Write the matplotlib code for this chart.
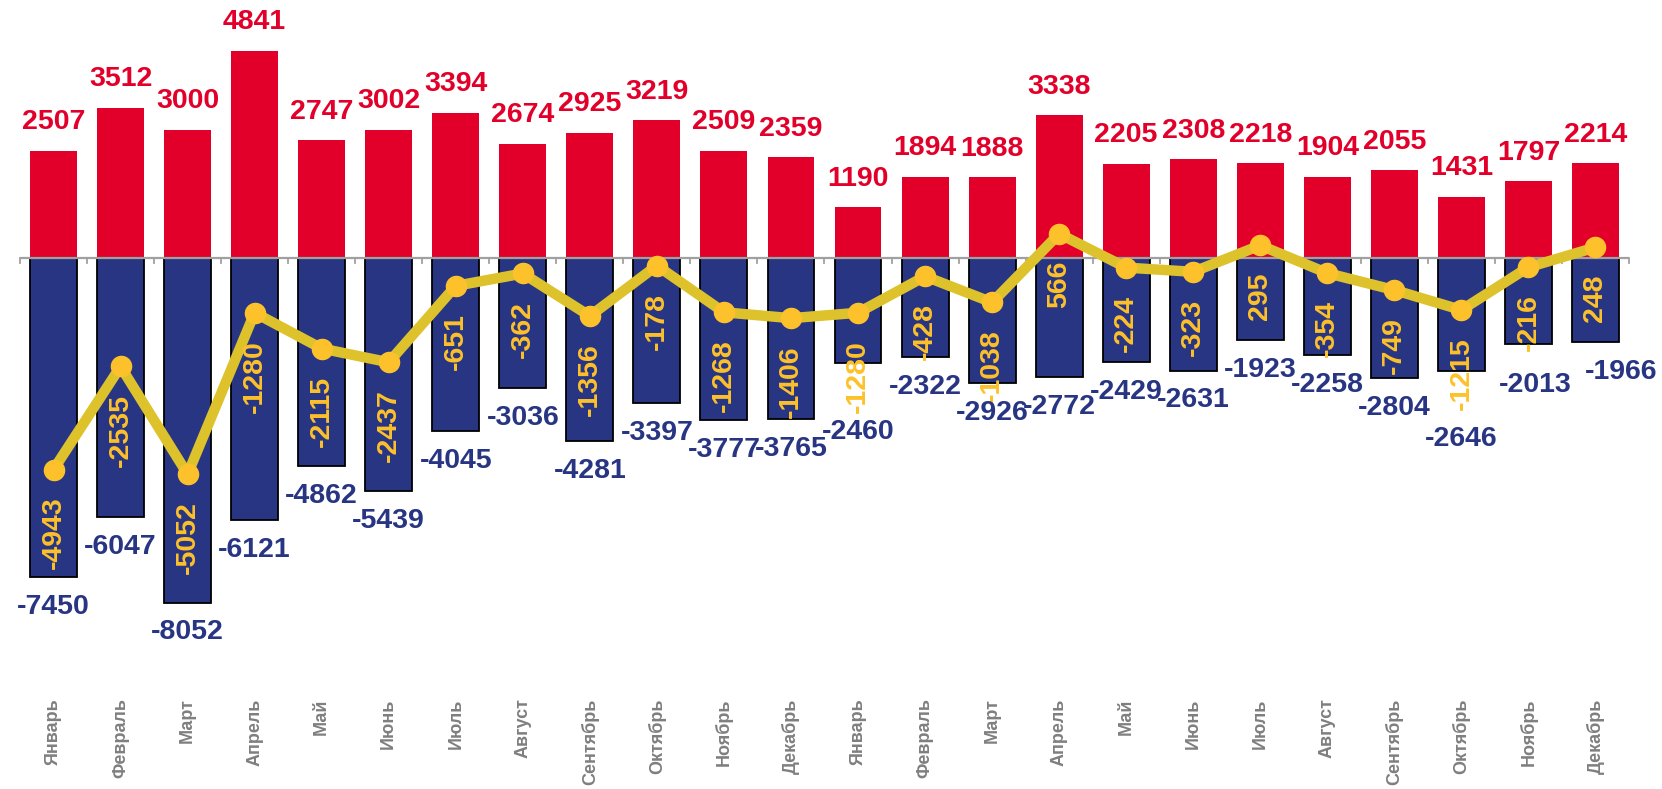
import matplotlib
matplotlib.use("Agg")
import matplotlib.pyplot as plt
import numpy as np

months = ["Январь", "Февраль", "Март", "Апрель", "Май", "Июнь", "Июль",
          "Август", "Сентябрь", "Октябрь", "Ноябрь", "Декабрь"] * 2
exports = [2507, 3512, 3000, 4841, 2747, 3002, 3394, 2674, 2925, 3219, 2509, 2359,
           1190, 1894, 1888, 3338, 2205, 2308, 2218, 1904, 2055, 1431, 1797, 2214]
imports = [-7450, -6047, -8052, -6121, -4862, -5439, -4045, -3036, -4281, -3397, -3777, -3765,
           -2460, -2322, -2926, -2772, -2429, -2631, -1923, -2258, -2804, -2646, -2013, -1966]
balance = [-4943, -2535, -5052, -1280, -2115, -2437, -651, -362, -1356, -178, -1268, -1406,
           -1280, -428, -1038, 566, -224, -323, 295, -354, -749, -1215, -216, 248]

# manual label nudges (extra shift in pixels) as in the original
import_label_extra_down_px = {12: 39, 21: 38, 22: 11}
import_label_extra_right_px = {22: 7, 23: 26}

RED = "#E2002A"
BLUE = "#283583"
LINE = "#DEC22C"
MARK = "#FCC12B"
YTXT = "#FDC12A"
GRAY = "#7F7F7F"

plt.rcParams["font.family"] = ["Liberation Sans", "DejaVu Sans"]
plt.rcParams["font.weight"] = "bold"

fig = plt.figure(figsize=(16.62, 7.89), dpi=100)
W, H = 1662, 789
left_px, right_px = 20, 1629
top_px, bot_px = 0, 690
ax = fig.add_axes([left_px / W, 1 - bot_px / H, (right_px - left_px) / W, (bot_px - top_px) / H])

base_px = 258
scale = 42.8 / 1000  # px per unit
ax.set_ylim(-(bot_px - base_px) / scale, (base_px - top_px) / scale)
n = len(months)
x = np.arange(n)
ax.set_xlim(-0.5, n - 0.5)

ax.bar(x, exports, width=0.70, color=RED, zorder=2)
ax.bar(x, imports, width=0.70, color=BLUE, edgecolor="black", linewidth=1.3, zorder=2)

# zero line with boundary ticks
ax.axhline(0, color="#A0A0A0", lw=1.6, zorder=3)
tick_len = 5 / scale
for b in np.arange(-0.5, n, 1.0):
    ax.plot([b, b], [0, -tick_len], color="#A0A0A0", lw=1.3, zorder=3, clip_on=False)

ax.plot(x, balance, color=LINE, lw=7.5, zorder=4, solid_capstyle="round")
ax.plot(x, balance, "o", color=MARK, ms=14.5, zorder=5)

px2pt = 0.72
fs = 20.5
for xi, v in zip(x, exports):
    ax.annotate(str(v), (xi, v), xytext=(0, 20.5), textcoords="offset points",
                ha="center", va="center", color=RED, fontsize=fs, fontweight="bold", zorder=6)
for xi, v in zip(x, balance):
    ax.annotate(str(v), (xi, v), xytext=(0, -19.5), textcoords="offset points",
                ha="center", va="top", rotation=90, color=YTXT, fontsize=fs,
                fontweight="bold", zorder=6)
for i, (xi, v) in enumerate(zip(x, imports)):
    offy = -21.5 - import_label_extra_down_px.get(i, 0) * px2pt
    offx = import_label_extra_right_px.get(i, 0) * px2pt
    ax.annotate(str(v), (xi, v), xytext=(offx, offy), textcoords="offset points",
                ha="center", va="center", color=BLUE, fontsize=fs, fontweight="bold",
                zorder=7, annotation_clip=False)

ax.set_xticks(x)
ax.set_xticklabels(months, rotation=90, va="top", ha="center", color=GRAY,
                   fontsize=13, fontweight="bold")
ax.tick_params(axis="x", length=0, pad=6)
ax.set_yticks([])
for s in ax.spines.values():
    s.set_visible(False)

fig.savefig("out.png", dpi=100)
